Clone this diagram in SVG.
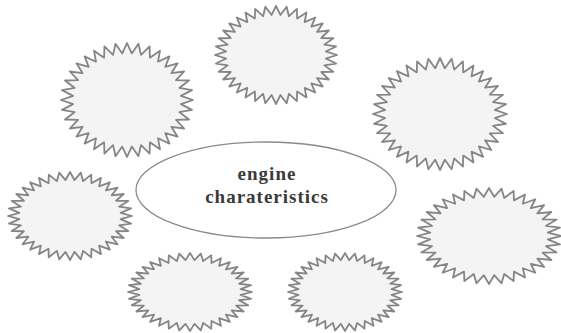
<svg xmlns="http://www.w3.org/2000/svg" xmlns:xlink="http://www.w3.org/1999/xlink" width="561" height="333" viewBox="0 0 561 333">
<style>
.star{fill:#f4f4f4;stroke:#858585;stroke-width:1.8;stroke-linejoin:round;vector-effect:non-scaling-stroke}
.hub{fill:#ffffff;stroke:#8a8a8a;stroke-width:1.3}
.lbl{font-family:"Liberation Serif","Times New Roman",serif;font-weight:bold;font-size:19px;fill:#3a3a3a;text-anchor:middle;letter-spacing:1px}
</style>
<defs>
<polygon id="star" class="star" points="100,0 81.7,7.2 98.5,17.4 79.2,21.2 94,34.2 74.3,34.7 86.6,50 67.2,47 76.6,64.3 58,58 64.3,76.6 47,67.2 50,86.6 34.7,74.3 34.2,94 21.2,79.2 17.4,98.5 7.2,81.7 0,100 -7.2,81.7 -17.4,98.5 -21.2,79.2 -34.2,94 -34.7,74.3 -50,86.6 -47,67.2 -64.3,76.6 -58,58 -76.6,64.3 -67.2,47 -86.6,50 -74.3,34.7 -94,34.2 -79.2,21.2 -98.5,17.4 -81.7,7.2 -100,0 -81.7,-7.2 -98.5,-17.4 -79.2,-21.2 -94,-34.2 -74.3,-34.7 -86.6,-50 -67.2,-47 -76.6,-64.3 -58,-58 -64.3,-76.6 -47,-67.2 -50,-86.6 -34.7,-74.3 -34.2,-94 -21.2,-79.2 -17.4,-98.5 -7.2,-81.7 0,-100 7.2,-81.7 17.4,-98.5 21.2,-79.2 34.2,-94 34.7,-74.3 50,-86.6 47,-67.2 64.3,-76.6 58,-58 76.6,-64.3 67.2,-47 86.6,-50 74.3,-34.7 94,-34.2 79.2,-21.2 98.5,-17.4 81.7,-7.2"/>
</defs>
<rect width="561" height="333" fill="#ffffff"/>
<g id="connectors"></g>
<g id="star-top-left"><use href="#star" transform="translate(127,100) scale(0.66,0.57)"/></g>
<g id="star-top"><use href="#star" transform="translate(276,55) scale(0.61,0.49)"/></g>
<g id="star-top-right"><use href="#star" transform="translate(440,114) scale(0.67,0.56)"/></g>
<g id="star-left"><use href="#star" transform="translate(70,216) scale(0.62,0.44)"/></g>
<g id="star-right"><use href="#star" transform="translate(489,236) scale(0.72,0.48)"/></g>
<g id="star-bottom-left"><use href="#star" transform="translate(190,292) scale(0.62,0.39)"/></g>
<g id="star-bottom-right"><use href="#star" transform="translate(345,292) scale(0.57,0.39)"/></g>
<g id="hub">
<ellipse class="hub" cx="266" cy="190" rx="130" ry="48"/>
<text class="lbl" x="267" y="180">engine</text>
<text class="lbl" x="267" y="203">charateristics</text>
</g>
</svg>
